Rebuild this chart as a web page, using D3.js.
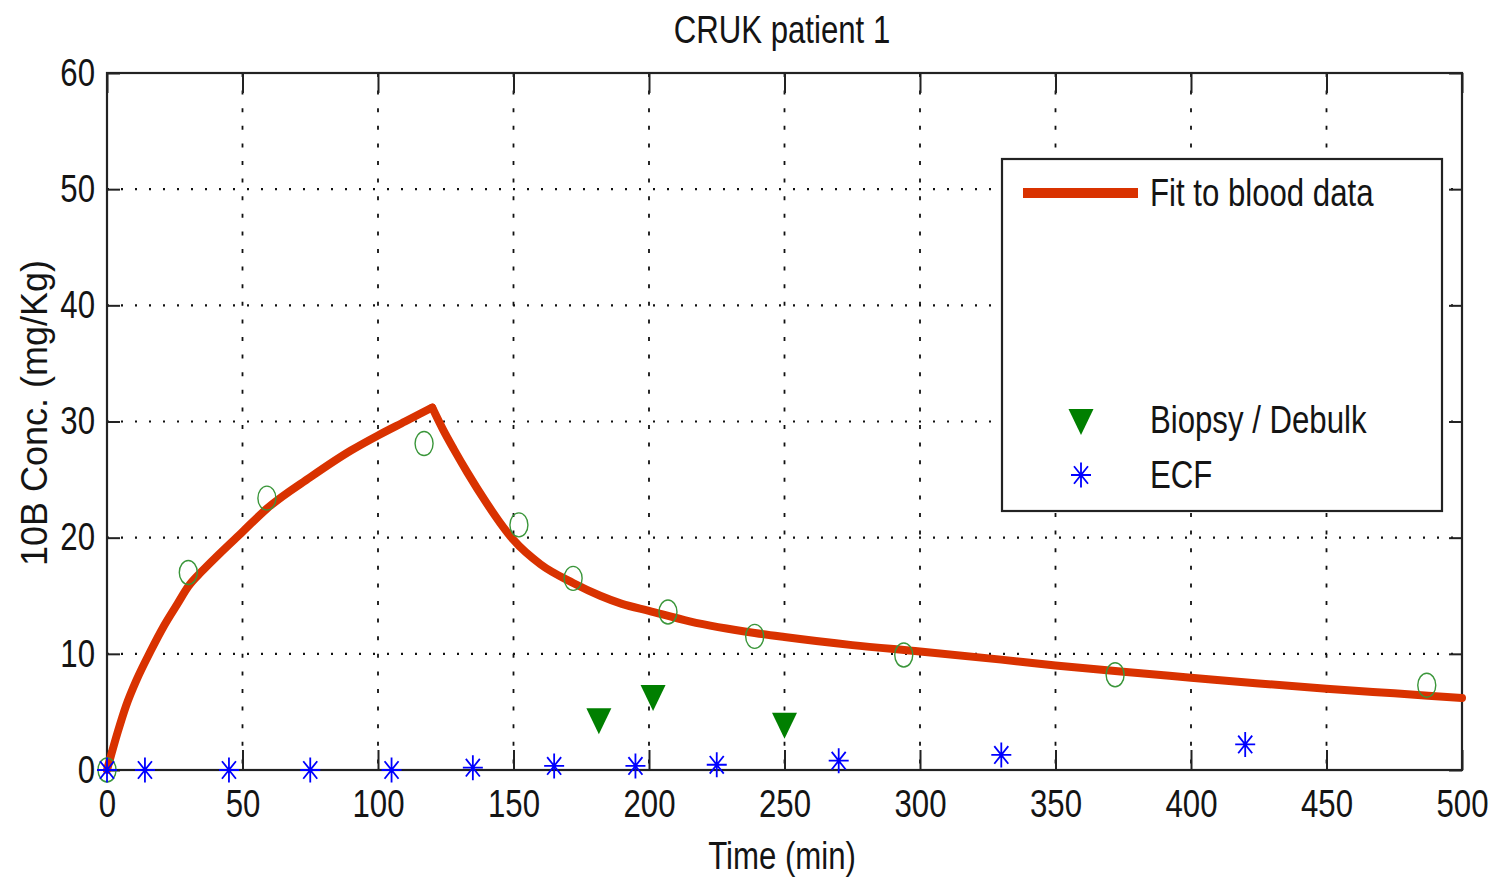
<!DOCTYPE html>
<html>
<head>
<meta charset="utf-8">
<script src="https://cdn.jsdelivr.net/npm/d3@7"></script>
<style>
  body { margin: 0; background: #fff; }
  text { fill: #141414; }
  .narrow { font-family: "Liberation Sans", Arial, sans-serif; }
</style>
</head>
<body>
<svg id="chart"></svg>
<script>
// blood fit curve
const fitTime = [0, 4, 7, 11, 16, 21, 26, 30, 35, 41, 50, 59, 75, 90, 100, 110, 120,
  124, 128, 133, 140, 145, 150, 160, 172, 182, 190, 200, 215, 239, 250,
  275, 300, 330, 350, 375, 400, 425, 450, 475, 500];
const fitConc = [0, 3.3, 5.5, 7.8, 10.2, 12.4, 14.3, 15.8, 17.1, 18.5, 20.5, 22.5, 25.2, 27.5, 28.8, 30.0, 31.2,
  29.3, 27.6, 25.6, 23.0, 21.3, 19.8, 17.7, 16.1, 15.0, 14.3, 13.7, 12.8, 11.8, 11.45,
  10.75, 10.2, 9.5, 9.0, 8.45, 7.95, 7.45, 7.0, 6.6, 6.2];
const peakTime = 120;

// blood samples (open circles)
const bloodTime = [0, 30, 59, 117, 152, 172, 207, 239, 294, 372, 487];
const bloodConc = [0, 17.0, 23.4, 28.1, 21.1, 16.5, 13.6, 11.5, 9.9, 8.2, 7.3];

// biopsy / debulk samples
const biopsyTime = [181.5, 201.5, 250];
const biopsyConc = [4.2, 6.2, 3.8];

// ECF samples
const ecfTime = [0, 14, 45, 75, 105, 135, 165, 195, 225, 270, 330, 420];
const ecfConc = [0, 0, 0, 0, 0, 0.2, 0.35, 0.35, 0.45, 0.8, 1.3, 2.2];

const xTicks = [0, 50, 100, 150, 200, 250, 300, 350, 400, 450, 500];
const yTicks = [0, 10, 20, 30, 40, 50, 60];

const W = 1492, H = 877;
const margin = { left: 107, top: 73, right: 30, bottom: 107 };
const width = W - margin.left - margin.right;
const height = H - margin.top - margin.bottom;

const red = "#d93200", green = "#007f00", blue = "#0000ff";

const svg = d3.select("#chart").attr("width", W).attr("height", H);
const g = svg.append("g").attr("transform", "translate(" + margin.left + "," + margin.top + ")");

const x = d3.scaleLinear().domain([0, 500]).range([0, width]);
const y = d3.scaleLinear().domain([0, 60]).range([height, 0]);

// grid
g.selectAll(".vgrid").data(xTicks.slice(1, -1)).enter().append("line")
  .attr("x1", d => x(d)).attr("x2", d => x(d))
  .attr("y1", 0).attr("y2", height)
  .attr("stroke", "#111").attr("stroke-width", 1.8)
  .attr("stroke-dasharray", "4,13.6");
g.selectAll(".hgrid").data(yTicks.slice(1, -1)).enter().append("line")
  .attr("x1", 0).attr("x2", width)
  .attr("y1", d => y(d)).attr("y2", d => y(d))
  .attr("stroke", "#111").attr("stroke-width", 2.2)
  .attr("stroke-dasharray", "2,12");

// axes (ticks inside, box on)
const xAxis = d3.axisBottom(x).tickValues(xTicks).tickSize(-20).tickPadding(20);
const yAxis = d3.axisLeft(y).tickValues(yTicks).tickSize(-13).tickPadding(12);
const gx = g.append("g").attr("transform", "translate(0," + height + ")").call(xAxis);
const gy = g.append("g").call(yAxis);
g.append("g").call(d3.axisTop(x).tickValues(xTicks).tickSize(-20).tickFormat(""));
g.append("g").attr("transform", "translate(" + width + ",0)")
  .call(d3.axisRight(y).tickValues(yTicks).tickSize(-13).tickFormat(""));
g.selectAll(".domain").remove();
g.selectAll(".tick line").attr("stroke", "#222").attr("stroke-width", 2);
[gx, gy].forEach(a => a.selectAll("text")
  .attr("class", "narrow").style("font-size", "38px").attr("fill", "#141414"));

g.append("rect").attr("width", width).attr("height", height)
  .attr("fill", "none").attr("stroke", "#222").attr("stroke-width", 2.2);

// fit curve, drawn in two pieces so the peak stays sharp
const fit = fitTime.map((t, i) => ({ t: t, c: fitConc[i] }));
const line = d3.line().x(d => x(d.t)).y(d => y(d.c)).curve(d3.curveMonotoneX);
[fit.filter(d => d.t <= peakTime), fit.filter(d => d.t >= peakTime)].forEach(part => {
  g.append("path").datum(part).attr("d", line)
    .attr("fill", "none").attr("stroke", red).attr("stroke-width", 8)
    .attr("stroke-linejoin", "round").attr("stroke-linecap", "round");
});

// blood samples
g.selectAll(".blood").data(bloodTime.map((t, i) => ({ t: t, c: bloodConc[i] }))).enter()
  .append("ellipse")
  .attr("cx", d => x(d.t)).attr("cy", d => y(d.c))
  .attr("rx", 9).attr("ry", 12)
  .attr("fill", "none").attr("stroke", "#3a963a").attr("stroke-width", 1.4);

// markers
const tri = (cx, cy) => "M" + (cx - 12.5) + "," + (cy - 13) + "L" + (cx + 12.5) + "," + (cy - 13) +
  "L" + cx + "," + (cy + 13) + "Z";
const star = (cx, cy) => {
  const a = 10, b = 12.5, da = 7, db = 8.8;
  return "M" + cx + "," + (cy - b) + "V" + (cy + b) +
    "M" + (cx - a) + "," + cy + "H" + (cx + a) +
    "M" + (cx - da) + "," + (cy - db) + "L" + (cx + da) + "," + (cy + db) +
    "M" + (cx - da) + "," + (cy + db) + "L" + (cx + da) + "," + (cy - db);
};

g.selectAll(".biopsy").data(biopsyTime.map((t, i) => ({ t: t, c: biopsyConc[i] }))).enter()
  .append("path")
  .attr("d", d => tri(x(d.t), y(d.c)))
  .attr("fill", green);

g.selectAll(".ecf").data(ecfTime.map((t, i) => ({ t: t, c: ecfConc[i] }))).enter()
  .append("path")
  .attr("d", d => star(x(d.t), y(d.c)))
  .attr("fill", "none").attr("stroke", blue).attr("stroke-width", 1.8);

// legend
const lg = svg.append("g");
lg.append("rect").attr("x", 1002).attr("y", 159).attr("width", 440).attr("height", 352)
  .attr("fill", "#fff").attr("stroke", "#222").attr("stroke-width", 2.2);
lg.append("line").attr("x1", 1023).attr("x2", 1138).attr("y1", 193).attr("y2", 193)
  .attr("stroke", red).attr("stroke-width", 10);
lg.append("path").attr("d", tri(1081, 422)).attr("fill", green);
lg.append("path").attr("d", star(1081, 475)).attr("fill", "none")
  .attr("stroke", blue).attr("stroke-width", 1.8);
const legendLabels = ["Fit to blood data", "Biopsy / Debulk", "ECF"];
const legendBase = [206, 433, 488];
lg.selectAll(".lab").data(legendLabels).enter().append("text")
  .attr("class", "narrow")
  .attr("x", 1150).attr("y", (d, i) => legendBase[i])
  .style("font-size", "38px")
  .text(d => d);

// title and axis labels
svg.append("text").attr("class", "narrow")
  .attr("x", 782).attr("y", 43).attr("text-anchor", "middle")
  .style("font-size", "38px").text("CRUK patient 1");
svg.append("text").attr("class", "narrow")
  .attr("x", 782).attr("y", 869).attr("text-anchor", "middle")
  .style("font-size", "38px").text("Time (min)");
svg.append("text")
  .attr("transform", "translate(47,413) rotate(-90)")
  .attr("text-anchor", "middle")
  .style("font-family", "'Liberation Sans', Arial, sans-serif")
  .style("font-size", "36px").text("10B Conc.  (mg/Kg)");

// condensed look: squeeze the Helvetica-like texts horizontally
svg.selectAll("text.narrow").each(function () {
  const len = this.getComputedTextLength();
  d3.select(this).attr("textLength", len * 0.82).attr("lengthAdjust", "spacingAndGlyphs");
});
</script>
</body>
</html>
